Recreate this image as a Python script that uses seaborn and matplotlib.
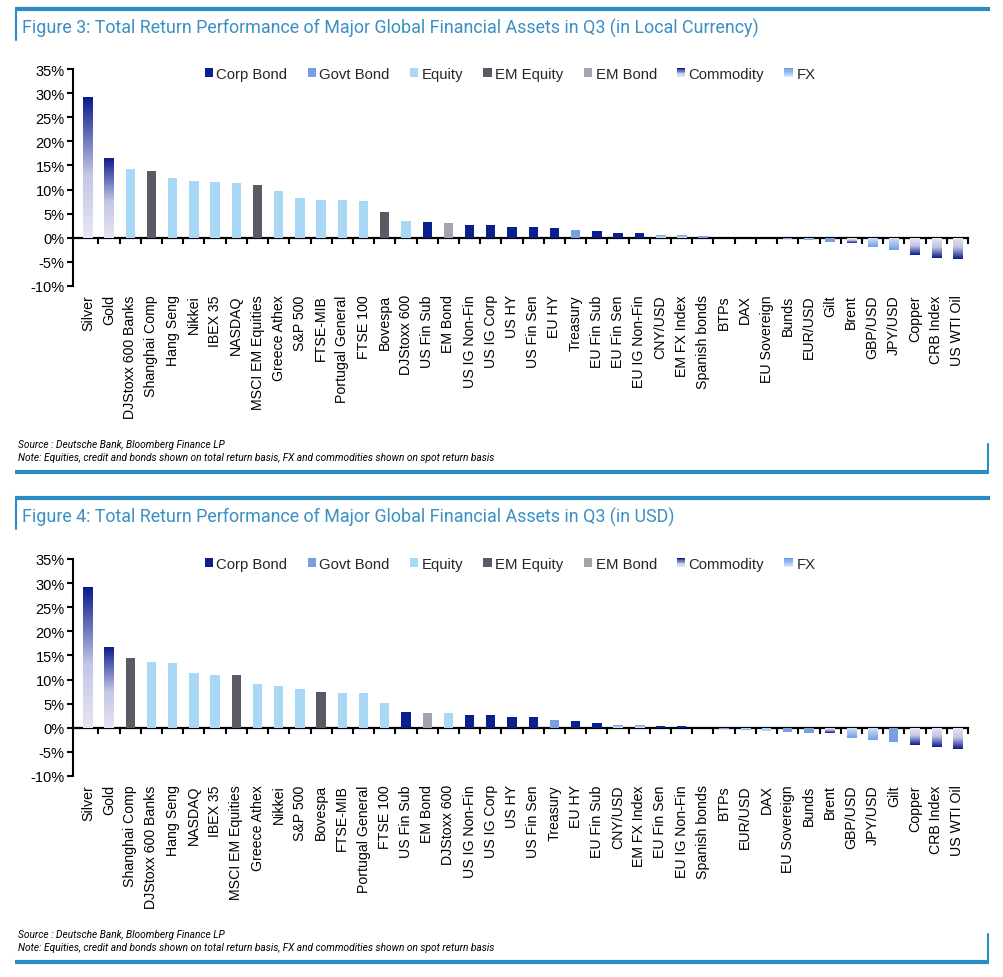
import numpy as np
import pandas as pd
import matplotlib
matplotlib.use("Agg")
import matplotlib.pyplot as plt
import seaborn as sns
from matplotlib.colors import LinearSegmentedColormap
from matplotlib.legend_handler import HandlerBase
from matplotlib.patches import Rectangle, Patch
from matplotlib.lines import Line2D

# ---------------- data ----------------
local_assets = ["Silver", "Gold", "DJStoxx 600 Banks", "Shanghai Comp", "Hang Seng", "Nikkei",
                "IBEX 35", "NASDAQ", "MSCI EM Equities", "Greece Athex", "S&P 500", "FTSE-MIB",
                "Portugal General", "FTSE 100", "Bovespa", "DJStoxx 600", "US Fin Sub", "EM Bond",
                "US IG Non-Fin", "US IG Corp", "US HY", "US Fin Sen", "EU HY", "Treasury",
                "EU Fin Sub", "EU Fin Sen", "EU IG Non-Fin", "CNY/USD", "EM FX Index",
                "Spanish bonds", "BTPs", "DAX", "EU Sovereign", "Bunds", "EUR/USD", "Gilt",
                "Brent", "GBP/USD", "JPY/USD", "Copper", "CRB Index", "US WTI Oil"]
local_returns = [29.1, 16.6, 14.2, 13.8, 12.5, 11.7, 11.5, 11.3, 10.9, 9.6, 8.2, 7.8,
                 7.8, 7.6, 5.3, 3.4, 3.2, 3.0, 2.6, 2.6, 2.2, 2.2, 2.0, 1.6,
                 1.5, 1.0, 1.0, 0.6, 0.6, 0.4, 0.05, 0.0, -0.05, -0.2, -0.45, -0.8,
                 -1.0, -2.0, -2.6, -3.5, -4.1, -4.4]
local_types = ["Commodity", "Commodity", "Equity", "EM Equity", "Equity", "Equity",
               "Equity", "Equity", "EM Equity", "Equity", "Equity", "Equity",
               "Equity", "Equity", "EM Equity", "Equity", "Corp Bond", "EM Bond",
               "Corp Bond", "Corp Bond", "Corp Bond", "Corp Bond", "Corp Bond", "Govt Bond",
               "Corp Bond", "Corp Bond", "Corp Bond", "FX", "FX",
               "Govt Bond", "Govt Bond", "Equity", "Govt Bond", "Govt Bond", "FX", "Govt Bond",
               "Commodity", "FX", "FX", "Commodity", "Commodity", "Commodity"]

usd_assets = ["Silver", "Gold", "Shanghai Comp", "DJStoxx 600 Banks", "Hang Seng", "NASDAQ",
              "IBEX 35", "MSCI EM Equities", "Greece Athex", "Nikkei", "S&P 500", "Bovespa",
              "FTSE-MIB", "Portugal General", "FTSE 100", "US Fin Sub", "EM Bond", "DJStoxx 600",
              "US IG Non-Fin", "US IG Corp", "US HY", "US Fin Sen", "Treasury", "EU HY",
              "EU Fin Sub", "CNY/USD", "EM FX Index", "EU Fin Sen", "EU IG Non-Fin",
              "Spanish bonds", "BTPs", "EUR/USD", "DAX", "EU Sovereign", "Bunds", "Brent",
              "GBP/USD", "JPY/USD", "Gilt", "Copper", "CRB Index", "US WTI Oil"]
usd_returns = [29.1, 16.8, 14.5, 13.6, 13.4, 11.3, 11.0, 11.0, 9.0, 8.7, 8.1, 7.4,
               7.2, 7.2, 5.1, 3.3, 3.1, 3.0, 2.6, 2.6, 2.2, 2.2, 1.6, 1.4,
               1.0, 0.55, 0.55, 0.35, 0.35, 0.05, -0.2, -0.4, -0.6, -0.8, -1.0, -1.1,
               -2.2, -2.6, -3.0, -3.5, -4.0, -4.3]
usd_types = ["Commodity", "Commodity", "EM Equity", "Equity", "Equity", "Equity",
             "Equity", "EM Equity", "Equity", "Equity", "Equity", "EM Equity",
             "Equity", "Equity", "Equity", "Corp Bond", "EM Bond", "Equity",
             "Corp Bond", "Corp Bond", "Corp Bond", "Corp Bond", "Govt Bond", "Corp Bond",
             "Corp Bond", "FX", "FX", "Corp Bond", "Corp Bond",
             "Govt Bond", "Govt Bond", "FX", "Equity", "Govt Bond", "Govt Bond", "Commodity",
             "FX", "FX", "Govt Bond", "Commodity", "Commodity", "Commodity"]

type_order = ["Corp Bond", "Govt Bond", "Equity", "EM Equity", "EM Bond", "Commodity", "FX"]
titles = ["Figure 3: Total Return Performance of Major Global Financial Assets in Q3 (in Local Currency)",
          "Figure 4: Total Return Performance of Major Global Financial Assets in Q3 (in USD)"]
source_text = "Source : Deutsche Bank, Bloomberg Finance LP"
note_text = "Note: Equities, credit and bonds shown on total return basis, FX and commodities shown on spot return basis"

# ---------------- styles ----------------
palette = {"Corp Bond": "#0c1f8e", "Govt Bond": "#7b9de2", "Equity": "#a8d8f6",
           "EM Equity": "#5a5a65", "EM Bond": "#a4a4ae", "Commodity": "#5a63b8", "FX": "#9cbfee"}
cmaps = {
    "Commodity": LinearSegmentedColormap.from_list(
        "comm", [(0.0, "#e6e6f3"), (0.45, "#c3c6e6"), (1.0, "#0a1a8a")]),
    "FX": LinearSegmentedColormap.from_list(
        "fx", [(0.0, "#d6e6f9"), (1.0, "#6f9fe6")]),
}
BLUE = "#2b8cc4"

sns.set_theme(style="white")
plt.rcParams["font.family"] = ["Liberation Sans", "DejaVu Sans"]

W, H = 1004, 978
fig = plt.figure(figsize=(W / 100, H / 100), dpi=100)


def fx(px):
    return px / W


def fy(py):
    return 1 - py / H


class GradHandler(HandlerBase):
    def __init__(self, cmap):
        super().__init__()
        self.cmap = cmap

    def create_artists(self, legend, orig_handle, xdescent, ydescent, width, height, fontsize, trans):
        n = 8
        arts = []
        for i in range(n):
            r = Rectangle((-xdescent, -ydescent + height * i / n), width, height / n + 0.05,
                          facecolor=self.cmap(i / (n - 1)), edgecolor="none", transform=trans)
            arts.append(r)
        return arts


def draw(ax, assets, returns, types):
    n = len(assets)
    df = pd.DataFrame({"asset": assets, "ret": returns, "type": types})
    sns.barplot(data=df, x="asset", y="ret", hue="type", hue_order=type_order, order=assets,
                palette=palette, dodge=False, width=0.44, saturation=1, legend=False, ax=ax,
                errorbar=None, linewidth=0)
    for p in list(ax.patches):
        idx = int(round(p.get_x() + p.get_width() / 2))
        t = types[idx]
        if t in cmaps and abs(p.get_height()) > 0:
            p.set_facecolor("none")
            x0, w = p.get_x(), p.get_width()
            v = p.get_height()
            g = np.linspace(0, 1, 256).reshape(-1, 1)
            if v < 0:
                g = g[::-1]
            im = ax.imshow(g, cmap=cmaps[t], extent=[x0, x0 + w, min(0, v), max(0, v)],
                           origin="lower", aspect="auto", interpolation="bilinear",
                           zorder=p.get_zorder())
            im.set_clip_path(p)
    ax.set_xlim(-0.7, n - 0.5)
    ax.set_ylim(-10, 35)
    yt = np.arange(-10, 36, 5)
    ax.set_yticks(yt)
    ax.set_yticklabels([f"{v}%" for v in yt])
    ax.set_xlabel("")
    ax.set_ylabel("")
    for s in ["top", "right", "bottom"]:
        ax.spines[s].set_visible(False)
    ax.spines["left"].set_color("black")
    ax.spines["left"].set_linewidth(1.5)
    ax.tick_params(axis="y", direction="out", length=4, width=1.5, color="black",
                   labelsize=10.5, pad=2, left=True, labelcolor="black")
    ax.tick_params(axis="x", length=0, labelsize=10.2, labelrotation=90, pad=6,
                   labelcolor="black")
    # zero line with boundary ticks
    sec = ax.secondary_xaxis(10 / 45)
    sec.set_xticks(np.arange(n) + 0.5)
    sec.tick_params(axis="x", direction="out", length=4, width=1.5, color="black",
                    labelbottom=False)
    sec.spines["bottom"].set_color("black")
    sec.spines["bottom"].set_linewidth(1.6)
    # legend
    handles = []
    hmap = {}
    for t in type_order:
        if t in cmaps:
            h = Patch(facecolor=palette[t], label=t)
            hmap[h] = GradHandler(cmaps[t])
        else:
            h = Patch(facecolor=palette[t], edgecolor="none", label=t)
        handles.append(h)
    ax.legend(handles=handles, labels=type_order, ncol=7, loc="center left",
              bbox_to_anchor=(0.147, 0.977), frameon=False, borderaxespad=0, borderpad=0,
              handlelength=0.55, handleheight=0.55, handletextpad=0.25, columnspacing=1.35,
              fontsize=10.7, handler_map=hmap)


panels = [
    dict(assets=local_assets, returns=local_returns, types=local_types, top=10, axtop=70,
         axbot=287, bottom=473),
    dict(assets=usd_assets, returns=usd_returns, types=usd_types, top=499, axtop=560,
         axbot=777, bottom=963),
]

for i, pnl in enumerate(panels):
    ax = fig.add_axes([fx(73), fy(pnl["axbot"]), fx(968) - fx(73), fy(pnl["axtop"]) - fy(pnl["axbot"])])
    draw(ax, pnl["assets"], pnl["returns"], pnl["types"])
    top, bot = pnl["top"], pnl["bottom"]
    fig.add_artist(Line2D([fx(15), fx(990)], [fy(top), fy(top)], color=BLUE, lw=3,
                          transform=fig.transFigure, solid_capstyle="butt"))
    fig.add_artist(Line2D([fx(16), fx(16)], [fy(top), fy(top + 31)], color=BLUE, lw=1.5,
                          transform=fig.transFigure))
    fig.add_artist(Line2D([fx(15), fx(989)], [fy(bot), fy(bot)], color=BLUE, lw=3,
                          transform=fig.transFigure, solid_capstyle="butt"))
    fig.add_artist(Line2D([fx(988), fx(988)], [fy(bot - 28), fy(bot)], color=BLUE, lw=1.5,
                          transform=fig.transFigure))
    fig.text(fx(22), fy(top + 18), titles[i], color="#3a8fc3", fontsize=12.85,
             family=["Roboto", "DejaVu Sans"], fontweight="normal", va="center", ha="left")
    fig.text(fx(18), fy(bot - 28), source_text, fontsize=7.3, style="italic",
             family=["Roboto", "DejaVu Sans"], va="center", ha="left", color="black")
    fig.text(fx(18), fy(bot - 15), note_text, fontsize=7.3, style="italic",
             family=["Roboto", "DejaVu Sans"], va="center", ha="left", color="black")

fig.savefig("out.png", dpi=100, facecolor="white")
